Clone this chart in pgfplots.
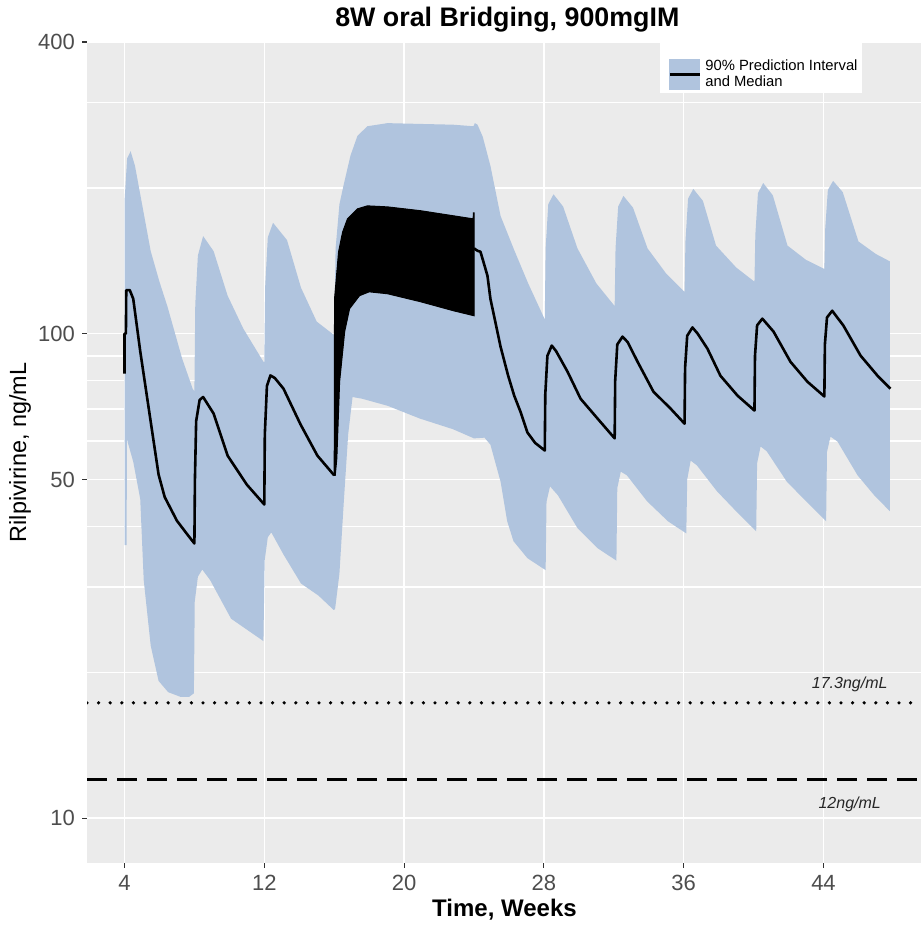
\documentclass[border=0pt]{standalone}
\usepackage{pgfplots}
\pgfplotsset{compat=1.18}
\usepackage{fontspec}
\setmainfont{Liberation Sans}
\definecolor{bandblue}{HTML}{B0C4DE}
\definecolor{panelgray}{HTML}{EBEBEB}
\definecolor{tickgray}{HTML}{4D4D4D}
\definecolor{tickmark}{HTML}{333333}
\begin{document}
\begin{tikzpicture}
\useasboundingbox (0,0) rectangle (460.5pt,463pt);
\begin{axis}[
  at={(43.5pt,31.5pt)}, anchor=south west,
  width=417pt, height=410.5pt, scale only axis,
  xmin=1.854, xmax=49.58, ymin=8.08, ymax=400,
  ymode=log,
  axis background/.style={fill=panelgray},
  axis line style={draw=none},
  xtick={4,12,20,28,36,44}, xticklabels={4,12,20,28,36,44},
  ytick={10,50,100,400}, yticklabels={10,50,100,400},
  minor ytick={20,30,40,60,70,80,90,200,300},
  xtick pos=bottom, ytick pos=left,
  grid=both,
  major grid style={white, line width=0.8pt},
  minor grid style={white, line width=0.8pt},
  tick align=outside, major tick length=2.5pt, minor tick length=0pt,
  tick style={tickmark, line width=0.6pt},
  ticklabel style={font=\fontsize{11}{13}\selectfont, text=tickgray},
  /pgf/number format/assume math mode=true,
  title={8W oral Bridging, 900mgIM},
  title style={at={(axis description cs:0.504,1.0129)}, anchor=center, font=\fontsize{13.4}{15}\selectfont\bfseries},
  xlabel={Time, Weeks},
  xlabel style={at={(axis description cs:0.5006,-0.0572)}, anchor=center, font=\fontsize{12}{14}\selectfont\bfseries},
  ylabel={Rilpivirine, ng/mL},
  ylabel style={at={(axis description cs:-0.0803,0.5)}, anchor=center, font=\fontsize{11.7}{14}\selectfont},
  legend style={at={(axis description cs:0.687,0.99147)}, anchor=north west, fill=none, draw=none,
    font=\fontsize{7.4}{8}\selectfont, cells={align=left}, inner xsep=4pt, inner ysep=3pt},
  legend cell align=left,
]
% 90% prediction interval (upper edge forward, lower edge backward)
\addplot[fill=bandblue, draw=none, forget plot] coordinates {
(4.0,187) (4.15,230) (4.35,238) (4.6,222) (4.9,194) (5.5,148) (6.0,128) (6.46,113.7) (7.3,88.8) (7.9,77) (8.0,76)
(8.05,115) (8.2,145) (8.5,159) (9.1,148) (9.9,119.8) (10.8,102.4) (11.95,87.5) (12.0,87.5)
(12.05,125) (12.2,158) (12.5,169.4) (13.3,156) (14.1,124.4) (15.0,105.9) (15.97,99.5) (16.0,99.5)
(16.08,150) (16.3,185) (16.53,202) (16.93,233) (17.33,256) (17.9,268) (19.05,272) (20.9,271) (22.8,270) (23.97,268)
(24.05,272) (24.2,270) (24.5,255) (24.94,222) (25.52,175) (26.26,150) (27.1,127) (28.05,107)
(28.1,150) (28.25,185) (28.55,194) (29.1,183) (29.92,150) (31.0,127) (32.05,114)
(32.1,150) (32.25,183) (32.55,192.5) (33.1,182) (33.93,150) (35.0,133) (36.05,122)
(36.1,155) (36.25,190) (36.55,199) (37.1,188) (37.85,152) (39.0,137) (40.05,128)
(40.1,160) (40.25,195) (40.55,204.6) (41.1,193) (41.94,152) (43.0,142) (44.05,136)
(44.1,165) (44.25,198) (44.55,206.7) (45.1,196) (46.0,155) (47.0,146) (47.8,141)
(47.8,43.0) (46.9,46.4) (45.95,51.0) (44.8,59.9) (44.4,61.3) (44.2,57) (44.15,41.0)
(43.0,45.1) (41.9,49.5) (40.75,57.2) (40.4,58.5) (40.2,54) (40.15,39.1)
(39.0,43.0) (37.9,47.3) (36.75,53.5) (36.4,54.7) (36.2,50) (36.15,38.7)
(35.1,41.0) (33.9,45.1) (32.75,51.0) (32.4,51.9) (32.2,48) (32.15,34.0)
(31.06,36.1) (29.92,39.7) (28.8,46.4) (28.35,48.4) (28.15,45) (28.1,32.5)
(27.06,34.4) (26.26,37.3) (25.9,41) (25.52,49.5) (24.94,59) (24.6,61) (24.0,60.8)
(22.8,63.5) (20.9,66.8) (19.05,71.0) (17.6,73.4) (17.05,74) (16.8,62) (16.55,45) (16.3,32) (16.05,27)
(15.97,26.9) (15.1,28.8) (14.1,30.5) (13.1,35) (12.4,38.9) (12.2,38) (12.02,34)
(11.95,23.2) (10.1,25.8) (8.9,31.0) (8.45,32.6) (8.2,31.5) (8.02,28)
(7.97,18.1) (7.7,17.8) (7.2,17.8) (6.5,18.2) (5.95,19.2) (5.5,22.7) (5.1,31) (4.9,45.6) (4.5,54.4) (4.14,60.5) (4.12,36.6) (4.0,36.6)
} -- cycle;
% median, IM phase 1
\addplot[black, line width=1.3pt, line join=round, forget plot] coordinates {
(4.0,82.7) (4.0,100) (4.08,100) (4.1,123) (4.3,123) (4.5,118) (4.9,92) (5.5,65.8) (5.95,51.2) (6.3,46) (7.0,41.1) (7.6,38.5) (8.0,36.9)
(8.03,50) (8.1,66) (8.3,73) (8.5,74) (9.1,68.4) (9.9,56) (11.0,48.8) (12.0,44.4)
(12.03,62) (12.15,78) (12.35,82) (12.6,81) (13.1,77) (14.07,65) (15.04,56) (16.0,51)
};
% median, oral bridging (daily oscillation envelope)
\addplot[fill=black, draw=black, line width=0.5pt, forget plot] coordinates {
(16.0,51) (16.02,118) (16.25,147.5) (16.48,162) (16.76,172.6) (17.33,181) (17.9,183.6) (19.05,182.7) (20.94,179.4) (22.83,175.1) (23.95,172.6) (23.97,177.6) (24.0,177.6)
(24.0,108.9) (22.83,111.5) (20.94,116.4) (19.05,120.9) (18.0,122) (17.45,119.8) (16.88,112.6) (16.6,101) (16.31,79.6) (16.15,55.2) (16.06,51)
} -- cycle;
% median, IM phase 2
\addplot[black, line width=1.3pt, line join=round, forget plot] coordinates {
(24.0,150) (24.2,148.3) (24.37,147.6) (24.54,140.7) (24.77,131.7) (24.94,118) (25.12,110) (25.52,94) (25.95,82) (26.3,74.5) (26.66,69) (27.06,62.5) (27.5,59.5) (28.05,57.4)
(28.08,75) (28.2,90) (28.45,94.5) (28.7,92) (29.35,83.5) (30.1,73.4) (31.07,66.8) (32.05,60.8)
(32.08,80) (32.2,95) (32.5,98.6) (32.8,96) (33.36,87.5) (34.27,75.9) (35.24,70.1) (36.05,65.2)
(36.08,85) (36.2,99) (36.5,103) (36.8,100) (37.36,93.1) (38.1,81.9) (39.08,74.5) (40.05,69.4)
(40.08,90) (40.2,104) (40.5,107.4) (41.14,101) (42.11,87.5) (43.08,79.6) (44.05,74.2)
(44.08,95) (44.2,108) (44.5,111.5) (45.14,103.9) (46.12,90.1) (47.09,81.9) (47.83,77.0)
};
% reference lines
\addplot[black, line width=1.8pt, line cap=round, dash pattern=on 0pt off 5.8pt, forget plot] coordinates {(1.854,17.3) (49.58,17.3)};
\addplot[black, line width=1.3pt, dash pattern=on 10pt off 5pt, forget plot] coordinates {(1.854,12) (49.58,12)};
\node[font=\fontsize{8}{9}\selectfont\itshape, text=black!85] at (axis cs:45.5,18.9) {17.3ng/mL};
\node[font=\fontsize{8}{9}\selectfont\itshape, text=black!85] at (axis cs:45.5,10.7) {12ng/mL};
% legend box background
\fill[white] (axis description cs:0.687,1.0024) rectangle (axis description cs:0.9293,0.9379);
\addlegendimage{legend image code/.code={\fill[bandblue] (0pt,-7.5pt) rectangle (15pt,7.5pt); \draw[black, line width=1.5pt] (0pt,0pt) -- (15pt,0pt);}}
\addlegendentry{90\% Prediction Interval\\and Median}
\end{axis}
\end{tikzpicture}
\end{document}
